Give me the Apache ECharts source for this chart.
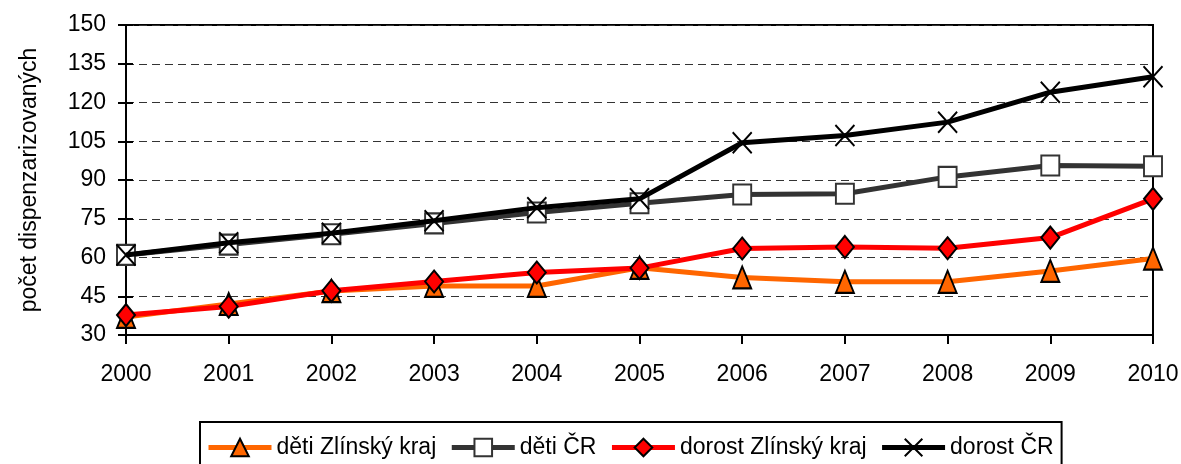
<!DOCTYPE html>
<html>
<head>
<meta charset="utf-8">
<script src="https://cdn.jsdelivr.net/npm/echarts@6/dist/echarts.min.js"></script>
<style>
  html, body { margin: 0; padding: 0; background: #fff; }
  #main { width: 1181px; height: 464px; }
</style>
</head>
<body>
<div id="main"></div>
<script>
  // roky na ose x
  var years = ['2000', '2001', '2002', '2003', '2004', '2005', '2006', '2007', '2008', '2009', '2010'];

  // hodnoty
  var detiZlin = [37, 42, 47, 49, 49, 56, 52.3, 50.6, 50.6, 54.8, 59.6];
  var detiCR = [61, 65, 69, 73.2, 77.4, 81, 84.4, 84.7, 91.2, 95.6, 95.3];
  var dorostZlin = [37.7, 41, 47.1, 50.7, 54.2, 55.9, 63.5, 64.1, 63.6, 67.7, 82.7];
  var dorostCR = [61, 65.7, 69.4, 74.2, 79.3, 82.7, 104.4, 107.2, 112.4, 124, 130];

  var names = ['děti Zlínský kraj', 'děti ČR', 'dorost Zlínský kraj', 'dorost ČR'];

  var font = '"Liberation Sans", Arial, sans-serif';
  var crossPath = 'path://M0,0L10,10M10,0L0,10';

  var myChart = echarts.init(document.getElementById('main'));
  myChart.setOption({
    animation: false,
    textStyle: { fontFamily: font },
    grid: {
      left: 126,
      top: 25,
      right: 28,
      bottom: 129,
      containLabel: false,
      outerBoundsMode: 'none',
      show: true,
      borderColor: '#000',
      borderWidth: 2
    },
    legend: {
      left: 200,
      top: 422,
      padding: [14, 8, 14, 6],
      itemGap: 13,
      itemWidth: 63,
      itemHeight: 22,
      borderColor: '#000',
      borderWidth: 2,
      lineStyle: { width: 5 },
      itemStyle: { borderWidth: 2 },
      textStyle: { fontSize: 23, color: '#000', fontFamily: font },
      data: names
    },
    xAxis: {
      type: 'category',
      data: years,
      boundaryGap: false,
      axisLine: { lineStyle: { color: '#000', width: 2 } },
      axisTick: { alignWithLabel: true, length: 9, lineStyle: { color: '#000', width: 2 } },
      axisLabel: { color: '#000', fontSize: 23, margin: 28, fontFamily: font },
      splitLine: { show: false }
    },
    yAxis: [
      {
        type: 'value',
        min: 30,
        max: 150,
        interval: 15,
        name: 'počet dispenzarizovaných',
        nameLocation: 'middle',
        nameGap: 85,
        nameRotate: 90,
        nameTextStyle: { fontSize: 23, color: '#000', fontFamily: font },
        axisLine: { show: true, lineStyle: { color: '#000', width: 2 } },
        axisTick: { show: true, length: 8, lineStyle: { color: '#000', width: 2 } },
        axisLabel: { color: '#000', fontSize: 23, margin: 20, fontFamily: font },
        splitLine: { lineStyle: { color: '#333', type: [8, 5], width: 1 } }
      },
      {
        // jen vnitřní značky, aby čárky křížily osu
        type: 'value',
        position: 'left',
        min: 30,
        max: 150,
        interval: 15,
        axisLine: { show: false },
        axisTick: { show: true, inside: true, length: 7, lineStyle: { color: '#000', width: 2 } },
        axisLabel: { show: false },
        splitLine: { show: false }
      }
    ],
    series: [
      {
        name: names[0],
        type: 'line',
        data: detiZlin,
        symbol: 'triangle',
        symbolSize: [18, 22],
        z: 2,
        lineStyle: { color: '#FF6600', width: 5 },
        itemStyle: { color: '#FF6600', borderColor: '#000', borderWidth: 2 }
      },
      {
        name: names[1],
        type: 'line',
        data: detiCR,
        symbol: 'rect',
        symbolSize: [18, 20],
        z: 3,
        lineStyle: { color: '#333333', width: 5 },
        itemStyle: { color: '#fff', borderColor: '#333333', borderWidth: 2 }
      },
      {
        name: names[2],
        type: 'line',
        data: dorostZlin,
        symbol: 'diamond',
        symbolSize: [18, 22],
        z: 4,
        lineStyle: { color: '#FF0000', width: 5 },
        itemStyle: { color: '#FF0000', borderColor: '#000', borderWidth: 2 }
      },
      {
        name: names[3],
        type: 'line',
        data: dorostCR,
        symbol: crossPath,
        symbolSize: [19, 21],
        z: 5,
        lineStyle: { color: '#000', width: 5 },
        itemStyle: { color: 'none', borderColor: '#000', borderWidth: 2 }
      }
    ]
  });
</script>
</body>
</html>
